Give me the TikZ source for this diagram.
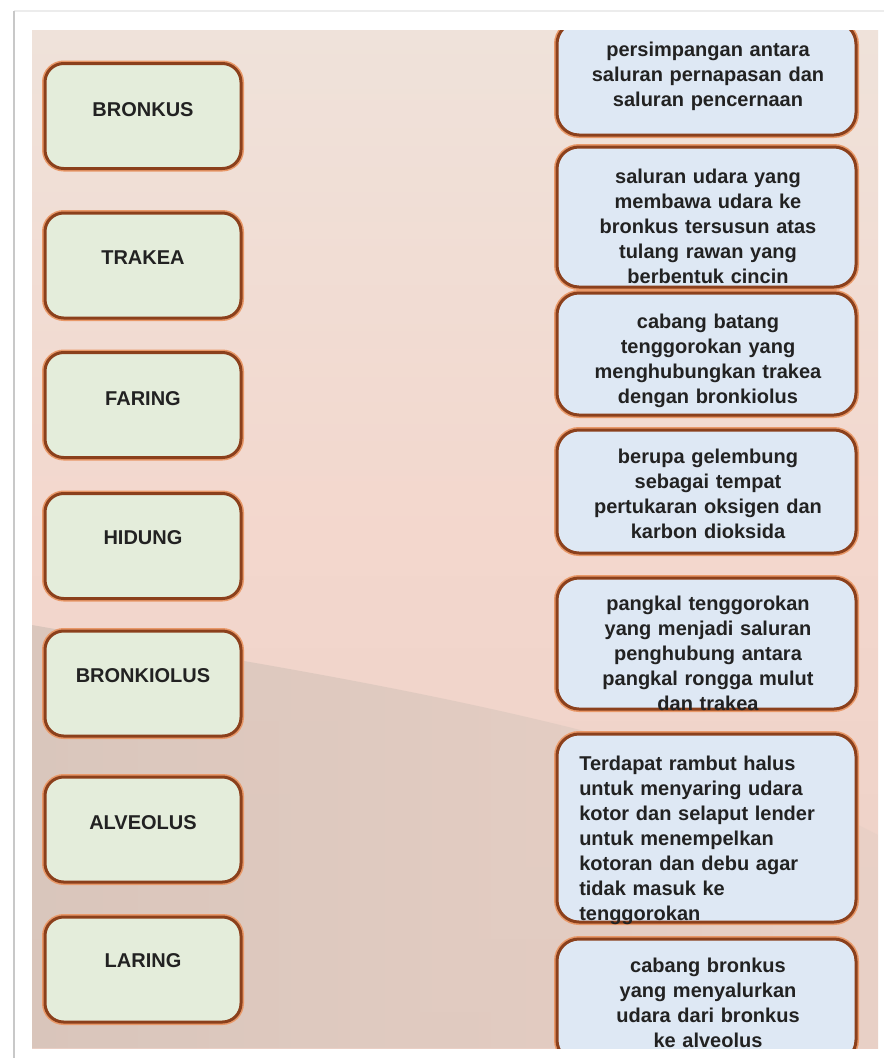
\documentclass[tikz,border=0pt]{standalone}
\usepackage{fontspec}
\setmainfont{Liberation Sans}
\newcommand\lblfont{\fontsize{15}{18.75}\selectfont\bfseries}
\definecolor{lgreen}{RGB}{228,237,219}
\definecolor{lblue}{RGB}{222,232,244}
\definecolor{brownln}{RGB}{139,64,28}
\definecolor{glowc}{RGB}{232,152,104}
\definecolor{ink}{RGB}{34,34,34}
\definecolor{bgtop}{RGB}{239,226,218}
\definecolor{bgmid}{RGB}{243,215,205}
\definecolor{bgbot}{RGB}{236,208,198}
\definecolor{tanl}{RGB}{214,196,186}
\definecolor{tanr}{RGB}{232,208,198}
\definecolor{frameln}{RGB}{200,200,200}
\definecolor{frametop}{RGB}{236,236,236}
\tikzset{
  boxbase/.style={draw=brownln, line width=2.25pt, inner sep=0pt,
    preaction={draw=glowc, line width=4.5pt}},
  lbox/.style={boxbase, fill=lgreen, rounded corners=14pt,
    minimum width=147pt, minimum height=78.75pt},
  rbox/.style={boxbase, fill=lblue, rounded corners=16.5pt,
    minimum width=224.25pt},
  ltext/.style={anchor=base, font=\lblfont, text=ink, inner sep=0pt},
  rtext/.style={anchor=base, font=\lblfont, text=ink, inner sep=0pt,
    align=center, text width=222pt},
  rtextl/.style={anchor=base west, font=\lblfont, text=ink, inner sep=0pt,
    align=left, text width=210pt},
}
\begin{document}
\begin{tikzpicture}[x=0.75pt,y=-0.75pt]
\useasboundingbox (0,0) rectangle (884,1058);
\fill[white] (0,0) rectangle (884,1058);
% frame lines
\draw[frametop, line width=1pt] (14,11) -- (884,11);
\draw[frameln, line width=1.6pt] (14,11) -- (14,1058);
% panel background
\shade[top color=bgtop, bottom color=bgbot, middle color=bgmid] (32,30) rectangle (878,1048);
\begin{scope}
\clip (32,30) rectangle (878,1048);
\shade[left color=tanl, right color=tanr, opacity=0.85]
  (32,625) .. controls (260,665) and (660,720) .. (878,835) -- (878,1048) -- (32,1048) -- cycle;
% left boxes
\node[lbox] (bronkus) at (143,116) {};
\node[lbox] (trakea) at (143,265.5) {};
\node[lbox] (faring) at (143,405) {};
\node[lbox] (hidung) at (143,546) {};
\node[lbox] (bronkiolus) at (143,683.5) {};
\node[lbox] (alveolus) at (143,829.5) {};
\node[lbox] (laring) at (143,969.5) {};
\node[ltext] (tbronkus) at (143,116) {BRONKUS};
\node[ltext] (ttrakea) at (143,264) {TRAKEA};
\node[ltext] (tfaring) at (143,405) {FARING};
\node[ltext] (thidung) at (143,544) {HIDUNG};
\node[ltext] (tbronkiolus) at (143,682) {BRONKIOLUS};
\node[ltext] (talveolus) at (143,829) {ALVEOLUS};
\node[ltext] (tlaring) at (143,967) {LARING};
% right boxes
\node[rbox, minimum height=84.75pt] (r1) at (706.5,78.5) {};
\node[rbox, minimum height=105pt] (r2) at (706.5,217) {};
\node[rbox, minimum height=91.5pt] (r3) at (706.5,354) {};
\node[rbox, minimum height=92.25pt] (r4) at (706.5,491.5) {};
\node[rbox, minimum height=98.25pt] (r5) at (706.5,643.5) {};
\node[rbox, minimum height=141pt] (r6) at (706.5,828) {};
\node[rbox, minimum height=92.25pt] (r7) at (706.5,1000.5) {};
\node[rtext] (tr1) at (708,56) {persimpangan antara\\saluran pernapasan dan\\saluran pencernaan};
\node[rtext] (tr2) at (708,183) {saluran udara yang\\membawa udara ke\\bronkus tersusun atas\\tulang rawan yang\\berbentuk cincin};
\node[rtext] (tr3) at (708,328) {cabang batang\\tenggorokan yang\\menghubungkan trakea\\dengan bronkiolus};
\node[rtext] (tr4) at (708,463) {berupa gelembung\\sebagai tempat\\pertukaran oksigen dan\\karbon dioksida};
\node[rtext] (tr5) at (708,610) {pangkal tenggorokan\\yang menjadi saluran\\penghubung antara\\pangkal rongga mulut\\dan trakea};
\node[rtextl] (tr6) at (579,770) {Terdapat rambut halus\\untuk menyaring udara\\kotor dan selaput lender\\untuk menempelkan\\kotoran dan debu agar\\tidak masuk ke\\tenggorokan};
\node[rtext] (tr7) at (708,972) {cabang bronkus\\yang menyalurkan\\udara dari bronkus\\ke alveolus};
\end{scope}
\end{tikzpicture}
\end{document}
